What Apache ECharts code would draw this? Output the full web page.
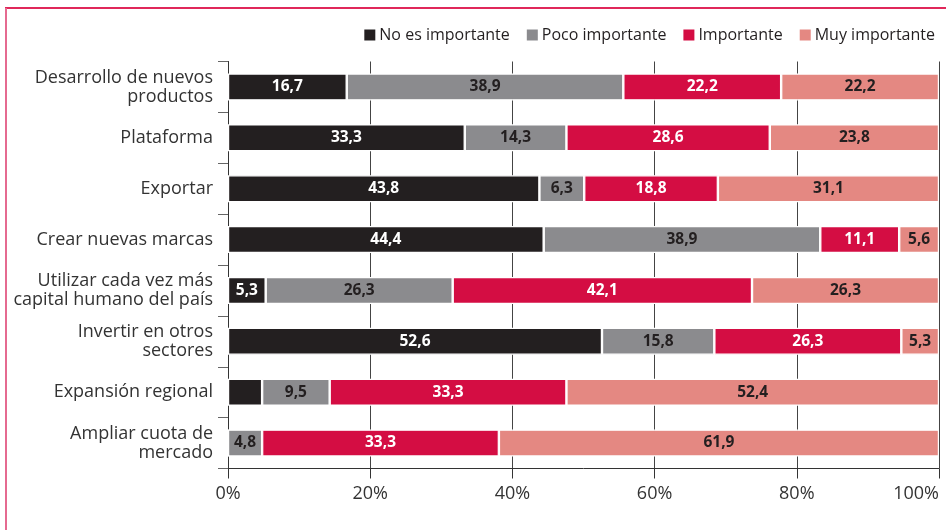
<!DOCTYPE html>
<html>
<head>
<meta charset="utf-8">
<script src="https://cdn.jsdelivr.net/npm/echarts@6/dist/echarts.min.js"></script>
<style>
html,body{margin:0;padding:0;background:#fff;}
#chart{width:946px;height:530px;}
</style>
</head>
<body>
<div id="chart"></div>
<script>
const categories = [
  'Desarrollo de nuevos\nproductos',
  'Plataforma',
  'Exportar',
  'Crear nuevas marcas',
  'Utilizar cada vez más\ncapital humano del país',
  'Invertir en otros\nsectores',
  'Expansión regional',
  'Ampliar cuota de\nmercado'
];
const seriesNames = ['No es importante', 'Poco importante', 'Importante', 'Muy importante'];
const noEsImportante = [16.7, 33.3, 43.8, 44.4, 5.3, 52.6, 4.8, 0];
const pocoImportante = [38.9, 14.3, 6.3, 38.9, 26.3, 15.8, 9.5, 4.8];
const importante = [22.2, 28.6, 18.8, 11.1, 42.1, 26.3, 33.3, 33.3];
const muyImportante = [22.2, 23.8, 31.1, 5.6, 26.3, 5.3, 52.4, 61.9];
const showNoEsLabel = [true, true, true, true, true, true, false, false];
const xTicks = [0, 20, 40, 60, 80, 100];

const colors = ['#231f20', '#8b8b8e', '#d40d43', '#e48882'];
const labelColors = ['#ffffff', '#231f20', '#ffffff', '#231f20'];
const allValues = [noEsImportante, pocoImportante, importante, muyImportante];

const chart = echarts.init(document.getElementById('chart'));
const fmt = v => v.toFixed(1).replace('.', ',');

const series = seriesNames.map((name, si) => ({
  name: name,
  type: 'bar',
  stack: 'total',
  barWidth: 27,
  itemStyle: { color: colors[si], borderColor: '#ffffff', borderWidth: 1.2 },
  label: {
    show: true,
    position: 'inside',
    color: labelColors[si],
    fontFamily: 'Liberation Sans Narrow, Open Sans, sans-serif',
    fontWeight: 'bold',
    fontSize: 15.5,
    formatter: p => (p.value > 0 ? fmt(p.value) : '')
  },
  data: allValues[si].map((v, i) => {
    if (si === 0 && !showNoEsLabel[i]) return { value: v, label: { show: false } };
    return v;
  })
}));

chart.setOption({
  animation: false,
  backgroundColor: '#ffffff',
  color: colors,
  legend: {
    right: 6,
    top: 22,
    itemWidth: 13,
    itemHeight: 13,
    itemGap: 15,
    icon: 'rect',
    textStyle: { fontFamily: 'Open Sans, sans-serif', fontSize: 16, color: '#231f20', padding: [0, 0, 0, -2] },
    data: seriesNames
  },
  grid: { left: 228, right: 7, top: 61.5, bottom: 61.5, containLabel: false, outerBoundsMode: 'none' },
  xAxis: {
    type: 'value',
    min: 0,
    max: 100,
    interval: 20,
    axisLine: { show: true, lineStyle: { color: '#333', width: 1 } },
    axisTick: { show: true, length: 10, lineStyle: { color: '#333' } },
    axisLabel: {
      margin: 16,
      fontFamily: 'Open Sans, sans-serif',
      fontSize: 18,
      color: '#333',
      alignMaxLabel: 'right',
      formatter: v => xTicks.indexOf(v) >= 0 ? v + '%' : ''
    },
    splitLine: { show: true, lineStyle: { color: '#444', width: 1 } }
  },
  yAxis: {
    type: 'category',
    inverse: true,
    data: categories,
    axisLine: { show: true, lineStyle: { color: '#333', width: 1 } },
    axisTick: { show: true, length: 10, alignWithLabel: false, lineStyle: { color: '#666' } },
    axisLabel: {
      margin: 15,
      fontFamily: 'Open Sans, sans-serif',
      fontSize: 18,
      lineHeight: 19,
      color: '#333',
      align: 'right'
    }
  },
  graphic: [
    { type: 'line', shape: { x1: 5, y1: 8, x2: 946, y2: 8 }, style: { stroke: '#e0285a', lineWidth: 2 } },
    { type: 'line', shape: { x1: 6, y1: 8, x2: 6, y2: 530 }, style: { stroke: '#e56a90', lineWidth: 2 } }
  ],
  series: series
});
</script>
</body>
</html>
